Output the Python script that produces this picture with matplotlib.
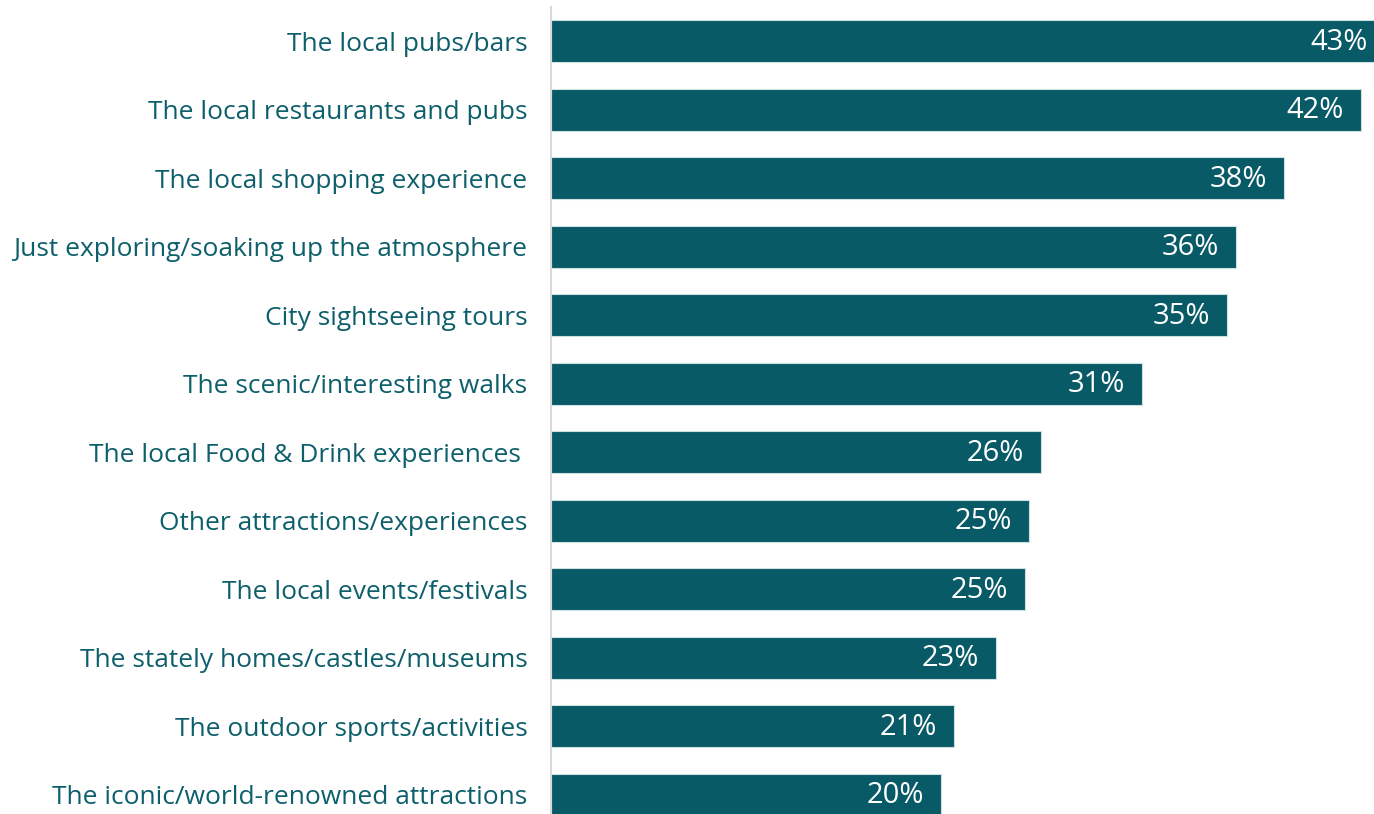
import matplotlib
matplotlib.use('Agg')
import matplotlib.pyplot as plt
import numpy as np

categories = [
    'The local pubs/bars',
    'The local restaurants and pubs',
    'The local shopping experience',
    'Just exploring/soaking up the atmosphere',
    'City sightseeing tours',
    'The scenic/interesting walks',
    'The local Food & Drink experiences ',
    'Other attractions/experiences',
    'The local events/festivals',
    'The stately homes/castles/museums',
    'The outdoor sports/activities',
    'The iconic/world-renowned attractions',
]
values = [43.4, 42.2, 38.2, 35.7, 35.2, 30.8, 25.5, 24.9, 24.7, 23.2, 21.0, 20.3]
value_labels = ['43%', '42%', '38%', '36%', '35%', '31%', '26%', '25%', '25%', '23%', '21%', '20%']

bar_color = '#075a66'
text_color = '#0d5f6b'

plt.rcParams['font.family'] = ['Open Sans', 'DejaVu Sans']

fig = plt.figure(figsize=(13.74, 8.14), dpi=100)
ax = fig.add_axes([551 / 1374, 0.0, 823 / 1374, 1 - 7 / 814])

y = np.arange(len(categories))
bars = ax.barh(y, values, height=0.61, color=bar_color, edgecolor='#cfe0e3', linewidth=0.8)

for b, lab in zip(bars, value_labels):
    ax.annotate(lab, xy=(b.get_width(), b.get_y() + b.get_height() / 2),
                xytext=(-17, -1), textcoords='offset pixels', annotation_clip=False,
                ha='right', va='center', color='white', fontsize=21)

ax.set_xlim(0, 823 / 19.2)
ax.set_ylim(11.28, -0.5)
ax.set_yticks(y)
ax.set_yticklabels(categories, fontsize=19, color=text_color)
ax.tick_params(axis='y', length=0, pad=17)
ax.set_xticks([])
for s in ['top', 'right', 'bottom']:
    ax.spines[s].set_visible(False)
ax.spines['left'].set_color('#d9d9d9')
ax.spines['left'].set_linewidth(1.5)

fig.savefig('out.png', dpi=100)
